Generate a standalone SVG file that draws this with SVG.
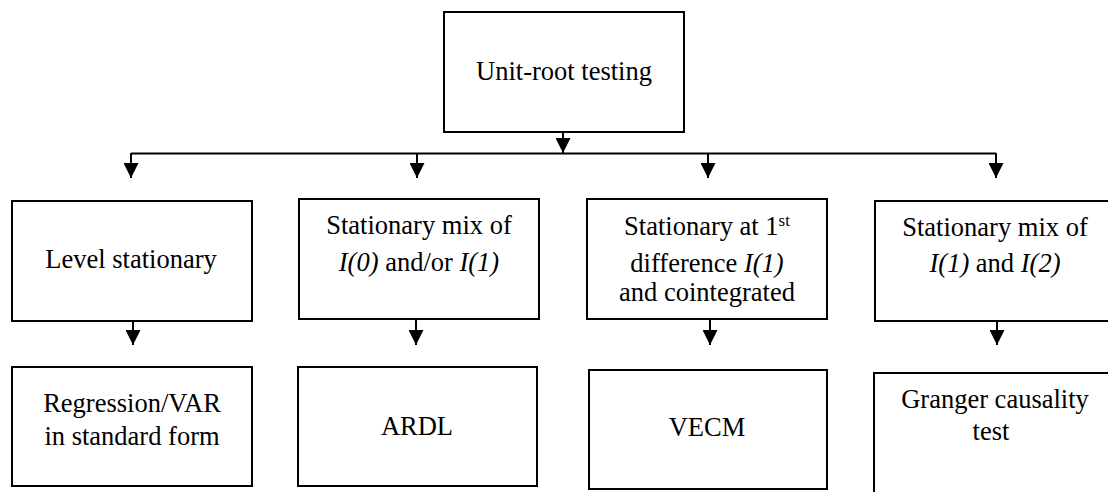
<svg xmlns="http://www.w3.org/2000/svg" width="1108" height="492" viewBox="0 0 1108 492">
  <style>
    .box { fill: #ffffff; stroke: #000000; stroke-width: 2; }
    .lbl { font-family: 'Liberation Serif', serif; font-size: 26.5px; fill: #000000; text-anchor: middle; }
    .it { font-style: italic; }
    .sup { font-size: 17px; }
    .wire { fill: none; stroke: #000000; stroke-width: 2; }
  </style>
  <defs>
    <marker id="head" viewBox="0 0 15 15" refX="15" refY="7.5" markerWidth="15" markerHeight="15" markerUnits="userSpaceOnUse" orient="auto">
      <path d="M0,0 L15,7.5 L0,15 Z" fill="#000000"/>
    </marker>
  </defs>
  <rect width="1108" height="492" fill="#ffffff"/>

  <!-- connectors -->
  <g id="connectors">
    <path class="wire" d="M563,132 V153" marker-end="url(#head)"/>
    <path class="wire" d="M131,153.5 H996"/>
    <path class="wire" d="M131,153 V178" marker-end="url(#head)"/>
    <path class="wire" d="M417,153 V178" marker-end="url(#head)"/>
    <path class="wire" d="M708,153 V178" marker-end="url(#head)"/>
    <path class="wire" d="M996,153 V178" marker-end="url(#head)"/>
    <path class="wire" d="M133,321 V345" marker-end="url(#head)"/>
    <path class="wire" d="M416,319 V345" marker-end="url(#head)"/>
    <path class="wire" d="M710,319 V345" marker-end="url(#head)"/>
    <path class="wire" d="M997,321 V345" marker-end="url(#head)"/>
  </g>

  <g font-family="Liberation Serif, serif">
  <!-- root -->
  <g id="unit-root">
    <rect class="box" x="444" y="12" width="240" height="120"/>
    <text class="lbl" x="564" y="80">Unit-root testing</text>
  </g>

  <!-- second tier -->
  <g id="level-stationary">
    <rect class="box" x="12" y="201" width="240" height="120"/>
    <text class="lbl" x="131" y="268">Level stationary</text>
  </g>
  <g id="mix-i0-i1">
    <rect class="box" x="299" y="199" width="240" height="120"/>
    <text class="lbl" x="419" y="234">Stationary mix of</text>
    <text class="lbl" x="419" y="271"><tspan class="it">I(0)</tspan> and/or <tspan class="it">I(1)</tspan></text>
  </g>
  <g id="first-difference">
    <rect class="box" x="587" y="199" width="240" height="120"/>
    <text class="lbl" x="707" y="235">Stationary at 1<tspan class="sup" dy="-9">st</tspan></text>
    <text class="lbl" x="707" y="272">difference <tspan class="it">I(1)</tspan></text>
    <text class="lbl" x="707" y="301">and cointegrated</text>
  </g>
  <g id="mix-i1-i2">
    <rect class="box" x="875" y="201" width="245" height="120"/>
    <text class="lbl" x="995" y="236">Stationary mix of</text>
    <text class="lbl" x="995" y="272"><tspan class="it">I(1)</tspan> and <tspan class="it">I(2)</tspan></text>
  </g>

  <!-- third tier -->
  <g id="regression-var">
    <rect class="box" x="12" y="367" width="240" height="119"/>
    <text class="lbl" x="132" y="412">Regression/VAR</text>
    <text class="lbl" x="132" y="445">in standard form</text>
  </g>
  <g id="ardl">
    <rect class="box" x="298" y="367" width="239" height="119"/>
    <text class="lbl" x="417" y="435">ARDL</text>
  </g>
  <g id="vecm">
    <rect class="box" x="589" y="370" width="238" height="119"/>
    <text class="lbl" x="707" y="436">VECM</text>
  </g>
  <g id="granger">
    <rect class="box" x="874" y="373" width="246" height="130"/>
    <text class="lbl" x="995" y="408">Granger causality</text>
    <text class="lbl" x="991" y="440">test</text>
  </g>
  </g>
</svg>
